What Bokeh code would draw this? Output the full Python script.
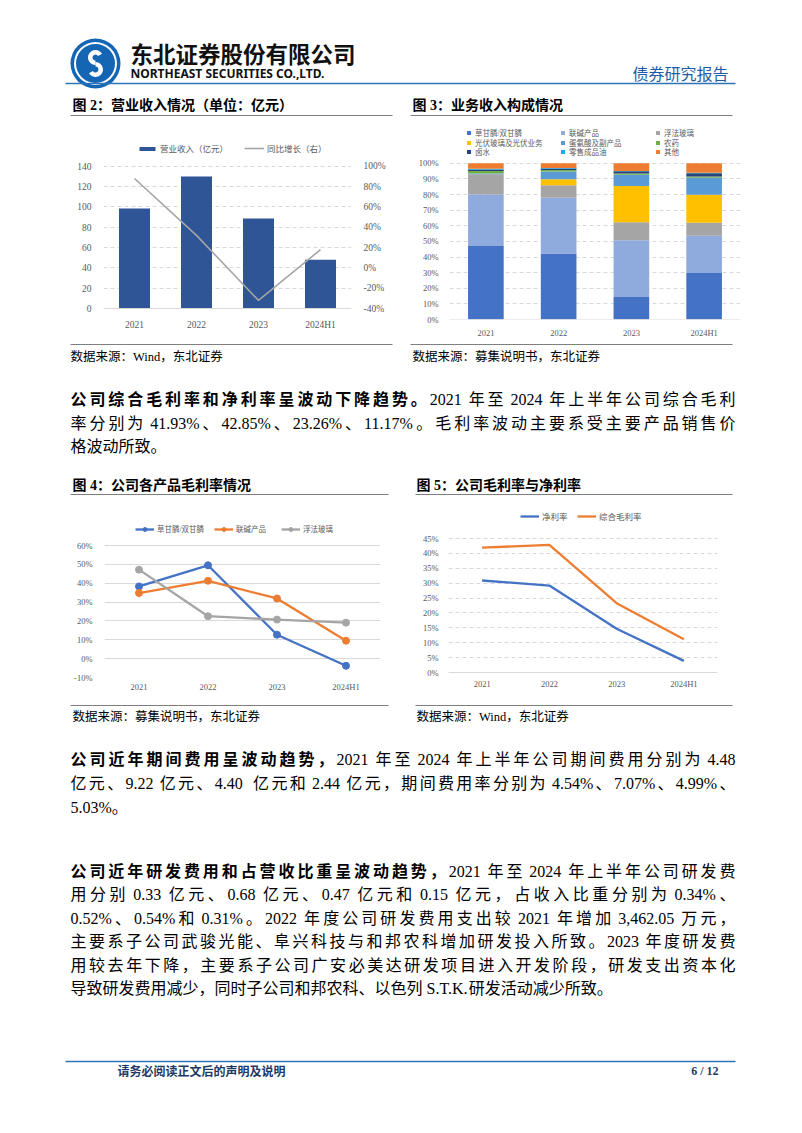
from bokeh.plotting import figure
from bokeh.models import (Range1d, FactorRange, Legend, LegendItem, LinearAxis, Span,
                          FixedTicker, PrintfTickFormatter, ColumnDataSource)
from bokeh.layouts import column, row
from bokeh.embed import file_html
from bokeh.resources import INLINE
from bokeh.core.properties import value

# ---------------- data ----------------
years = ["2021", "2022", "2023", "2024H1"]

# Fig 2
revenue = [98.5, 130.0, 88.5, 48.0]
revenue_yoy = [88.0, 32.0, -32.0, 18.0]
rev_ticks = [0, 20, 40, 60, 80, 100, 120, 140]
yoy_ticks = [-40, -20, 0, 20, 40, 60, 80, 100]
rev_legend = ["营业收入（亿元）", "同比增长（右）"]

# Fig 3
segment_names = ["草甘膦/双甘膦", "联碱产品", "浮法玻璃", "光伏玻璃及光伏业务",
                 "蛋氨酸及副产品", "农药", "卤水", "零售成品油", "其他"]
seg_glyphosate = [47.0, 42.2, 14.4, 29.7]
seg_alkali = [33.0, 35.8, 36.4, 23.9]
seg_float_glass = [13.0, 8.0, 11.5, 8.3]
seg_pv = [0.0, 3.8, 23.1, 18.0]
seg_methionine = [0.5, 4.9, 7.2, 10.8]
seg_pesticide = [1.5, 1.0, 0.8, 0.8]
seg_brine = [1.0, 1.0, 1.5, 2.1]
seg_fuel = [0.5, 0.3, 0.2, 0.3]
seg_other = [3.5, 3.0, 4.9, 6.1]
comp_ticks = [0, 10, 20, 30, 40, 50, 60, 70, 80, 90, 100]

# Fig 4
product_names = ["草甘膦/双甘膦", "联碱产品", "浮法玻璃"]
gm_glyphosate = [38.3, 49.5, 12.7, -3.8]
gm_alkali = [34.8, 41.3, 31.9, 9.5]
gm_float_glass = [47.2, 22.5, 20.7, 19.1]
gm_ticks = [-10, 0, 10, 20, 30, 40, 50, 60]

# Fig 5
margin_names = ["净利率", "综合毛利率"]
net_margin = [30.9, 29.2, 14.7, 3.9]
gross_margin = [41.93, 42.85, 23.26, 11.17]
margin_ticks = [0, 5, 10, 15, 20, 25, 30, 35, 40, 45]

# Page texts
company_cn = "东北证券股份有限公司"
company_en = "NORTHEAST SECURITIES CO.,LTD."
report_type = "债券研究报告"
titles = ["图 2：营业收入情况（单位：亿元）", "图 3：业务收入构成情况",
          "图 4：公司各产品毛利率情况", "图 5：公司毛利率与净利率"]
sources = ["数据来源：Wind，东北证券", "数据来源：募集说明书，东北证券",
           "数据来源：募集说明书，东北证券", "数据来源：Wind，东北证券"]
para1 = [("公司综合毛利率和净利率呈波动下降趋势。", "2021 年至 2024 年上半年公司综合毛利"),
         ("", "率分别为 41.93%、42.85%、23.26%、11.17%。毛利率波动主要系受主要产品销售价"),
         ("", "格波动所致。")]
para2 = [("公司近年期间费用呈波动趋势，", "2021 年至 2024 年上半年公司期间费用分别为 4.48"),
         ("", "亿元、9.22 亿元、4.40  亿元和 2.44 亿元，期间费用率分别为 4.54%、7.07%、4.99%、"),
         ("", "5.03%。")]
para3 = [("公司近年研发费用和占营收比重呈波动趋势，", "2021 年至 2024 年上半年公司研发费"),
         ("", "用分别 0.33 亿元、0.68 亿元、0.47 亿元和 0.15 亿元，占收入比重分别为 0.34%、"),
         ("", "0.52%、0.54%和 0.31%。2022 年度公司研发费用支出较 2021 年增加 3,462.05 万元，"),
         ("", "主要系子公司武骏光能、阜兴科技与和邦农科增加研发投入所致。2023 年度研发费"),
         ("", "用较去年下降，主要系子公司广安必美达研发项目进入开发阶段，研发支出资本化"),
         ("", "导致研发费用减少，同时子公司和邦农科、以色列 S.T.K.研发活动减少所致。")]
footer_note = "请务必阅读正文后的声明及说明"
page_no = "6 / 12"

# ---------------- styles ----------------
SERIF = "Liberation Serif, Noto Sans CJK SC"
CJK = "Noto Sans CJK SC"
TICK_COLOR = "#595959"
GRID = "#D9D9D9"
BODY_FS = 16
PAGE_W = 794
LATIN_EM = {".": 0.25, ",": 0.25, "%": 0.833, "S": 0.556, "T": 0.611, "K": 0.722}


def canvas(y0, h):
    p = figure(width=PAGE_W, height=h, x_range=Range1d(0, PAGE_W),
               y_range=Range1d(-(y0 + h), -y0), output_backend="svg",
               toolbar_location=None, min_border=0, title_location=None,
               x_axis_location=None, y_axis_location=None)
    p.grid.visible = False
    p.outline_line_color = None
    return p


def txt(p, x, y, s, size, bold=False, color="#000000", font=SERIF, align="left"):
    p.text(x=[x], y=[-y], text=[s], text_font=value(font),
           text_font_size=f"{size}px", text_font_style="bold" if bold else "normal",
           text_color=color, text_baseline="middle", text_align=align)


def hline(p, x0, x1, y, color, w):
    p.line(x=[x0, x1], y=[-y, -y], line_color=color, line_width=w)


def char_em(ch):
    if ord(ch) < 128:
        return LATIN_EM.get(ch, 0.5)
    return 1.0


def tokens_of(segments):
    toks = []
    gap = 0.0
    for s, bold in segments:
        for ch in s:
            if ch == " ":
                gap += 0.25 * BODY_FS
                continue
            w = char_em(ch) * BODY_FS
            latin = ord(ch) < 128
            if latin and toks and toks[-1][4] and toks[-1][1] == bold and gap == 0:
                toks[-1][0] += ch
                toks[-1][2] += w
            else:
                toks.append([ch, bold, w, gap, latin])
                gap = 0.0
    return toks


def paragraph(p, lines, x0, x1, ys):
    bx, by, bt, nx, ny, nt = [], [], [], [], [], []
    for i, ((lead, rest), y) in enumerate(zip(lines, ys)):
        toks = tokens_of([(lead, True), (rest, False)])
        natural = sum(t[2] + t[3] for t in toks)
        last = i == len(lines) - 1
        extra = 0.0 if last else (x1 - x0 - natural) / (len(toks) - 1)
        x = x0
        for t in toks:
            x += t[3]
            if t[1]:
                bx.append(x); by.append(-y); bt.append(t[0])
            else:
                nx.append(x); ny.append(-y); nt.append(t[0])
            x += t[2] + extra
    common = dict(text_font=value(SERIF), text_font_size=f"{BODY_FS}px",
                  text_color="#000000", text_baseline="middle", text_align="left")
    if bt:
        p.text(x=bx, y=by, text=bt, text_font_style="bold", **common)
    if nt:
        p.text(x=nx, y=ny, text=nt, **common)


def chart(width, height, left, right, top, bottom, y_range):
    p = figure(width=width, height=height, x_range=FactorRange(*years),
               y_range=y_range, output_backend="svg", toolbar_location=None,
               title_location=None,
               min_border_left=left, min_border_right=right,
               min_border_top=top, min_border_bottom=bottom)
    p.outline_line_color = None
    p.xgrid.grid_line_color = None
    p.ygrid.grid_line_color = GRID
    return p


def fit_range(lo, hi, y_lo, y_hi, frame_top, frame_bottom):
    """Range so that value lo sits at page y y_lo and hi at y_hi inside the frame."""
    k = (hi - lo) / (y_lo - y_hi)
    return Range1d(lo - (frame_bottom - y_lo) * k, hi + (y_hi - frame_top) * k)


def style_axes(p, fs, xstand, ystand):
    for ax in p.axis:
        ax.major_tick_line_color = None
        ax.minor_tick_line_color = None
        ax.axis_line_color = None
        ax.major_label_text_font = SERIF
        ax.major_label_text_font_size = fs
        ax.major_label_text_color = TICK_COLOR
    for ax in p.below:
        ax.major_label_standoff = xstand
    for ax in p.left + p.right:
        ax.major_label_standoff = ystand


def legend_at(p, item, gx, top_y, fl, ft, fh, gw, gh, fs, row_h=10, standoff=4):
    lg = Legend(items=[item], location=(gx - fl, fh - (top_y - ft) - row_h),
                orientation="vertical", padding=0, margin=0, spacing=0,
                border_line_alpha=0, background_fill_alpha=0,
                glyph_width=gw, glyph_height=gh, label_height=row_h,
                label_standoff=standoff, label_text_font=SERIF,
                label_text_font_size=fs, label_text_color=TICK_COLOR)
    p.add_layout(lg, "center")


def baseline(p, y_range_name="default"):
    p.add_layout(Span(location=0, dimension="width", line_color=GRID, line_width=1,
                      y_range_name=y_range_name))


# Row B: page y 120..340, frames page y 122..320 (top 2, bottom 20)
B_TOP, B_BOT = 122, 320
# Row D: page y 500..700, frames page y 505..677 (top 5, bottom 23)
D_TOP, D_BOT = 505, 677

# ---------------- Fig 2 (page x 0..401) ----------------
p2 = chart(401, 220, 103, 50, 2, 20, fit_range(0, 140, 309, 166, B_TOP, B_BOT))
p2.extra_y_ranges = {"yoy": fit_range(-40, 100, 309, 166, B_TOP, B_BOT)}
bars = p2.vbar(x=years, top=revenue, width=0.5, fill_color="#2F5597", line_color=None)
yoy = p2.line(x=years, y=revenue_yoy, y_range_name="yoy", line_color="#A5A5A5", line_width=1.6)
p2.left[0].ticker = FixedTicker(ticks=rev_ticks)
rax = LinearAxis(y_range_name="yoy", ticker=FixedTicker(ticks=yoy_ticks),
                 formatter=PrintfTickFormatter(format="%d%%"))
p2.add_layout(rax, "right")
p2.ygrid.grid_line_dash = "4 3"
style_axes(p2, "9.5px", -6, 6)
baseline(p2)
legend_at(p2, LegendItem(label=rev_legend[0], renderers=[bars]), 137, 145, 103, B_TOP, B_BOT - B_TOP, 20, 5, "8.5px", standoff=3)
legend_at(p2, LegendItem(label=rev_legend[1], renderers=[yoy]), 244, 145, 103, B_TOP, B_BOT - B_TOP, 20, 10, "8.5px", standoff=3)

# ---------------- Fig 3 (page x 401..794) ----------------
p3 = chart(393, 220, 48, 54, 2, 20, fit_range(0, 100, 320, 163, B_TOP, B_BOT))
seg_cols = ["s%d" % i for i in range(9)]
src3 = ColumnDataSource(dict(x=years, s0=seg_glyphosate, s1=seg_alkali, s2=seg_float_glass,
                             s3=seg_pv, s4=seg_methionine, s5=seg_pesticide, s6=seg_brine,
                             s7=seg_fuel, s8=seg_other))
seg_colors = ["#4472C4", "#8FAADC", "#A5A5A5", "#FFC000", "#5B9BD5",
              "#70AD47", "#264478", "#00B0F0", "#ED7D31"]
stack = p3.vbar_stack(seg_cols, x="x", width=0.49, color=seg_colors, line_color=None, source=src3)
p3.left[0].ticker = FixedTicker(ticks=comp_ticks)
p3.left[0].formatter = PrintfTickFormatter(format="%d%%")
p3.ygrid.grid_line_dash = "4 3"
style_axes(p3, "8.5px", 2, 5)
baseline(p3)
col_x = [466, 560, 655]
row_top = [129, 139, 148]
for i, name in enumerate(segment_names):
    legend_at(p3, LegendItem(label=name, renderers=[stack[i]]), col_x[i % 3], row_top[i // 3],
              449, B_TOP, B_BOT - B_TOP, 5, 5, "7.5px", row_h=10, standoff=4)

# ---------------- Fig 4 (page x 0..401) ----------------
p4 = chart(401, 200, 104, 21, 5, 23, fit_range(-10, 60, 677, 545, D_TOP, D_BOT))
colors4 = ["#4472C4", "#ED7D31", "#A5A5A5"]
series4 = [gm_glyphosate, gm_alkali, gm_float_glass]
gx4 = [135, 214, 281]
for name, ys, col, gx in zip(product_names, series4, colors4, gx4):
    ln = p4.line(x=years, y=ys, line_color=col, line_width=2.3)
    mk = p4.scatter(x=years, y=ys, size=7, fill_color=col, line_color=col)
    legend_at(p4, LegendItem(label=name, renderers=[ln, mk]), gx, 524, 104, D_TOP, D_BOT - D_TOP, 19, 10, "7.5px", standoff=3)
p4.left[0].ticker = FixedTicker(ticks=gm_ticks)
p4.left[0].formatter = PrintfTickFormatter(format="%d%%")
style_axes(p4, "8.5px", -2, 6)

# ---------------- Fig 5 (page x 401..794) ----------------
p5 = chart(393, 200, 47, 77, 5, 23, fit_range(0, 45, 672, 538, D_TOP, D_BOT))
colors5 = ["#4472C4", "#ED7D31"]
series5 = [net_margin, gross_margin]
gx5 = [520, 577]
for name, ys, col, gx in zip(margin_names, series5, colors5, gx5):
    ln = p5.line(x=years, y=ys, line_color=col, line_width=2.3)
    legend_at(p5, LegendItem(label=name, renderers=[ln]), gx, 512, 448, D_TOP, D_BOT - D_TOP, 19, 10, "8.5px", standoff=3)
p5.left[0].ticker = FixedTicker(ticks=margin_ticks)
p5.left[0].formatter = PrintfTickFormatter(format="%d%%")
p5.ygrid.grid_line_dash = "4 3"
style_axes(p5, "8.5px", -5, 4)
baseline(p5)

# ---------------- header canvas (page y 0..120) ----------------
hdr = canvas(0, 120)
hdr.circle(x=[95], y=[-63], radius=25, fill_color="#1565B5", line_color=None)
hdr.annulus(x=[95], y=[-63], inner_radius=19.5, outer_radius=21.5, fill_color="white", line_color=None)
hdr.annular_wedge(x=[95], y=[-57], inner_radius=3, outer_radius=7.5, start_angle=30,
                  end_angle=270, start_angle_units="deg", end_angle_units="deg",
                  fill_color="white", line_color=None)
hdr.annular_wedge(x=[95], y=[-69], inner_radius=3, outer_radius=7.5, start_angle=210,
                  end_angle=90, start_angle_units="deg", end_angle_units="deg",
                  fill_color="white", line_color=None)
txt(hdr, 130, 52, company_cn, 22.5, bold=True, color="#111111", font=CJK)
txt(hdr, 130, 73, company_en, 12, bold=True, color="#111111", font="Noto Sans")
txt(hdr, 728, 72, report_type, 16, color="#1F5CA8", font=CJK, align="right")
hline(hdr, 65, 735, 83, "#2E75B6", 1.5)
txt(hdr, 72, 105, titles[0], 14, bold=True)
txt(hdr, 412, 105, titles[1], 14, bold=True)
hline(hdr, 70, 392, 115, "#7F7F7F", 1.2)
hline(hdr, 410, 732, 115, "#7F7F7F", 1.2)

# ---------------- middle canvas (page y 340..500) ----------------
mid = canvas(340, 160)
hline(mid, 70, 392, 344, "#7F7F7F", 1)
hline(mid, 410, 732, 344, "#7F7F7F", 1)
txt(mid, 70, 356, sources[0], 12.5)
txt(mid, 412, 356, sources[1], 12.5)
paragraph(mid, para1, 70, 735, [399, 423, 446])
txt(mid, 72, 485, titles[2], 14, bold=True)
txt(mid, 416, 485, titles[3], 14, bold=True)
hline(mid, 70, 388, 494, "#7F7F7F", 1.2)
hline(mid, 415, 732, 494, "#7F7F7F", 1.2)

# ---------------- bottom canvas (page y 700..1125) ----------------
bot = canvas(700, 425)
hline(bot, 70, 388, 705, "#7F7F7F", 1)
hline(bot, 415, 732, 705, "#7F7F7F", 1)
txt(bot, 72, 716, sources[2], 12.5)
txt(bot, 416, 716, sources[3], 12.5)
paragraph(bot, para2, 70, 735, [759, 783, 807])
paragraph(bot, para3, 70, 735, [871, 894, 918, 941, 965, 988])
hline(bot, 65, 735, 1061, "#2E75B6", 1.5)
txt(bot, 117, 1070, footer_note, 12, bold=True, color="#1F3864", font=CJK)
txt(bot, 718, 1070, page_no, 12, bold=True, color="#1F3864", align="right")

layout = column(hdr, row(p2, p3, spacing=0), mid, row(p4, p5, spacing=0), bot, spacing=0)
open("out.html", "w").write(file_html(layout, INLINE))
